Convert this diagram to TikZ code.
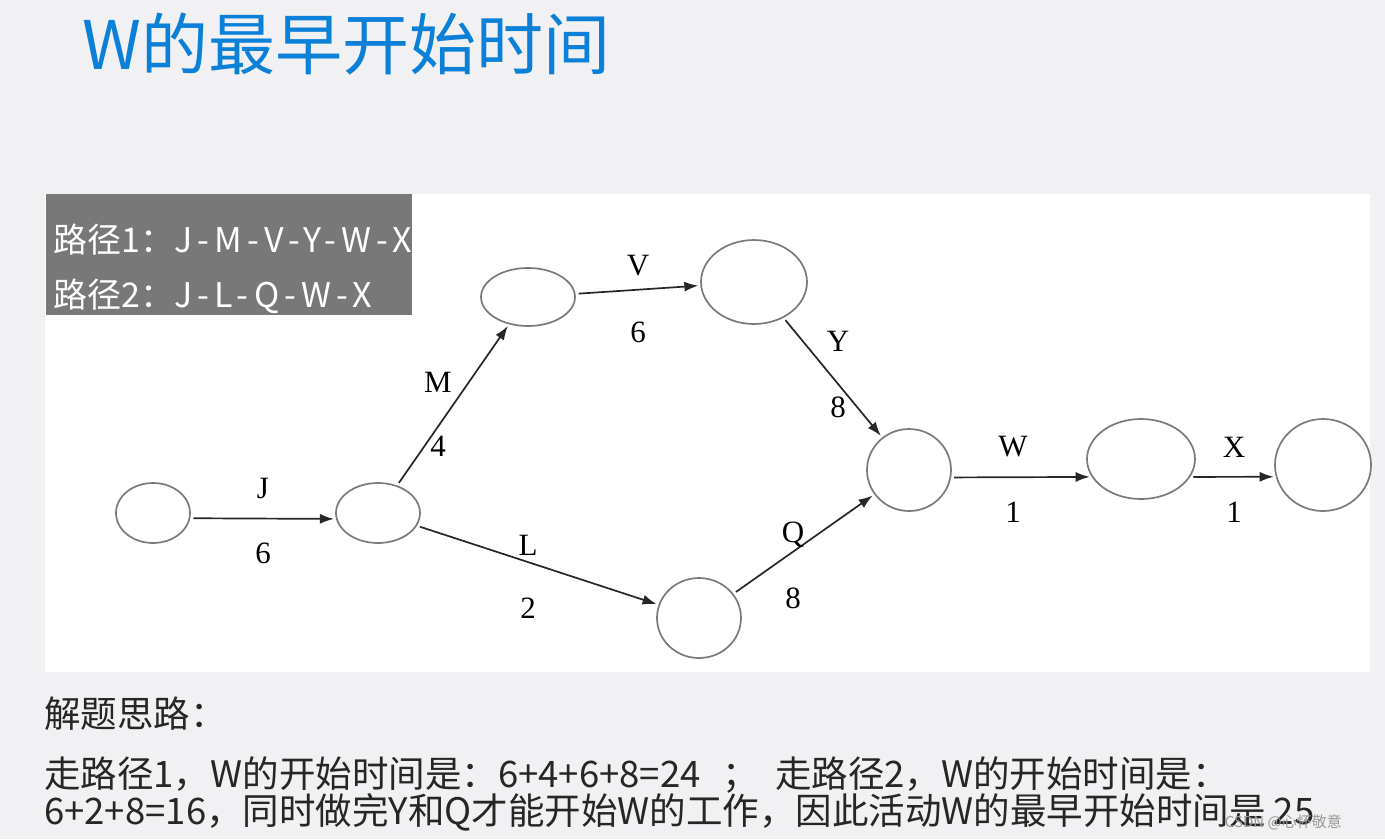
\documentclass[tikz,border=0pt]{standalone}
\usepackage{fontspec}
\setmainfont{Liberation Serif}
\newfontfamily\cjk{Noto Sans CJK SC}
\newcommand\lw[1]{{\addfontfeature{LetterSpace=16}#1}}
\usetikzlibrary{arrows.meta, shapes.geometric}
\definecolor{cbg}{HTML}{F1F0F2}
\definecolor{cblue}{HTML}{0A80D8}
\definecolor{cbox}{HTML}{787878}
\definecolor{cring}{HTML}{7A7A7A}
\definecolor{cink}{HTML}{262626}
\tikzset{
  event/.style={draw=cring, ellipse, line width=1.7pt, inner sep=0pt},
  arrow/.style={-{Latex[length=14pt, width=10pt]}, draw=cink, line width=1.7pt,
                shorten <=3pt, shorten >=2pt},
  lbl/.style={font=\fontsize{31}{34}\selectfont, text=black, inner sep=0pt},
  title/.style={font=\cjk\fontsize{67}{72}\selectfont, text=cblue, anchor=west, inner sep=0pt},
  pathtxt/.style={font=\cjk\fontsize{34}{38}\selectfont, text=white, anchor=west, inner sep=0pt},
  note/.style={font=\cjk\fontsize{36.5}{40}\selectfont, text=black!85, anchor=west, inner sep=0pt},
}

\begin{document}
\begin{tikzpicture}[x=1pt, y=-1pt]
  \useasboundingbox (0,0) rectangle (1385,839);
  \fill[cbg] (0,0) rectangle (1385,839);
  \fill[white] (45,194) rectangle (1370,672);
  \node[title] (head) at (82,44) {W的最早开始时间};
  % path summary box
  \fill[cbox] (46,194) rectangle (412,315);
  \node[pathtxt] (p1) at (53,240) {路径\lw{1}：\lw{J-M-V-Y-W-X}};
  \node[pathtxt] (p2) at (53,296) {路径\lw{2}：\lw{J-L-Q-W-X}};
  % events
  \node[event, minimum width=74, minimum height=60] (n1) at (153,513) {};
  \node[event, minimum width=84, minimum height=60] (n2) at (378,513) {};
  \node[event, minimum width=94, minimum height=58] (n3) at (528,297) {};
  \node[event, minimum width=106, minimum height=84] (n4) at (754,282) {};
  \node[event, minimum width=84, minimum height=82] (n5) at (909,470) {};
  \node[event, minimum width=108, minimum height=80] (n6) at (1141,459) {};
  \node[event, minimum width=96, minimum height=92] (n7) at (1323,465) {};
  \node[event, minimum width=84, minimum height=80] (n8) at (699,618) {};
  % activities
  \draw[arrow] (n1.-8) -- (n2.188);
  \foreach \a/\b in {n2/n3, n3/n4, n4/n5, n2/n8, n8/n5} \draw[arrow] (\a) -- (\b);
  \draw[arrow] (n5.-10) -- (n6.200);
  \draw[arrow] (n6.-20) -- (n7.194);
  % names and durations
  \node[lbl] (aJ) at (263,488) {J};   \node[lbl] (dJ) at (263,553) {6};
  \node[lbl] (aM) at (438,382) {M};   \node[lbl] (dM) at (438,446) {4};
  \node[lbl] (aV) at (638,266) {V};   \node[lbl] (dV) at (638,332) {6};
  \node[lbl] (aY) at (838,341) {Y};   \node[lbl] (dY) at (838,407) {8};
  \node[lbl] (aL) at (528,545) {L};   \node[lbl] (dL) at (528,608) {2};
  \node[lbl] (aQ) at (793,535) {Q};   \node[lbl] (dQ) at (793,598) {8};
  \node[lbl] (aW) at (1013,447) {W};  \node[lbl] (dW) at (1013,512) {1};
  \node[lbl] (aX) at (1234,447) {X};  \node[lbl] (dX) at (1234,512) {1};
  % solution notes
  \node[note] (idea) at (44,714) {解题思路：};
  \node[note] (s1) at (44,775) {走路径1，W的开始时间是：6+4+6+8=24\hspace{22pt}；\hspace{16pt}走路径2，W的开始时间是：};
  \node[note] (s2) at (44,812) {6+2+8=16，同时做完Y和Q才能开始W的工作，因此活动W的最早开始时间是 25};
  \node[font=\cjk\fontsize{15}{18}\selectfont, text=black!40, anchor=east, inner sep=0pt] (mark) at (1342,822) {CSDN @心怀敬意};
\end{tikzpicture}
\end{document}
